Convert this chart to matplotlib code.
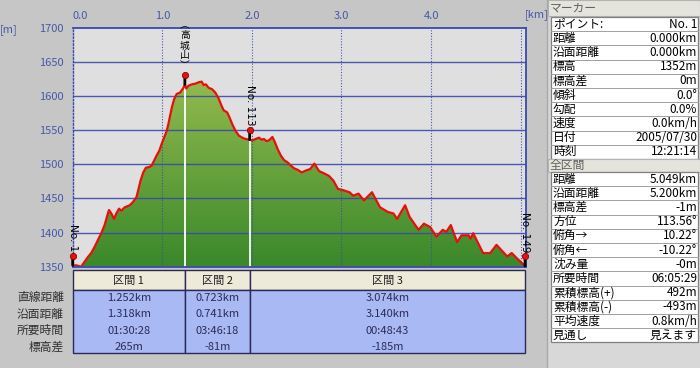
import numpy as np
import matplotlib
matplotlib.use('Agg')
import matplotlib.pyplot as plt
from matplotlib.patches import Rectangle, Polygon
from matplotlib.colors import LinearSegmentedColormap
from matplotlib.transforms import blended_transform_factory, offset_copy

plt.rcParams['font.family'] = ['Noto Sans CJK JP', 'DejaVu Sans']

# ---------------- data ----------------
dist_km = [0.000, 0.038, 0.094, 0.131, 0.169, 0.206, 0.244, 0.281, 0.319, 0.356,
           0.382, 0.405, 0.431, 0.461, 0.487, 0.517, 0.543, 0.581, 0.637, 0.674,
           0.712, 0.731, 0.757, 0.787, 0.817, 0.854, 0.881, 0.907, 0.937, 0.967,
           0.993, 1.023, 1.049, 1.068, 1.087, 1.106, 1.131, 1.161, 1.199, 1.236,
           1.252, 1.268, 1.292, 1.330, 1.367, 1.405, 1.440, 1.461, 1.487, 1.517,
           1.555, 1.592, 1.630, 1.660, 1.685, 1.724, 1.749, 1.780, 1.817, 1.854,
           1.892, 1.929, 1.975, 2.004, 2.042, 2.079, 2.109, 2.135, 2.161, 2.191,
           2.229, 2.258, 2.285, 2.322, 2.360, 2.397, 2.435, 2.472, 2.510, 2.556,
           2.605, 2.650, 2.697, 2.750, 2.800, 2.860, 2.910, 2.960, 3.020, 3.090,
           3.130, 3.190, 3.250, 3.340, 3.430, 3.520, 3.580, 3.620, 3.710, 3.760,
           3.860, 3.920, 3.990, 4.060, 4.130, 4.170, 4.220, 4.290, 4.340, 4.420,
           4.440, 4.470, 4.580, 4.660, 4.730, 4.850, 4.900, 4.960, 5.049]
elev_m = [1352, 1352, 1350, 1357, 1364, 1370, 1379, 1389, 1399, 1411,
          1423, 1433, 1428, 1420, 1428, 1435, 1432, 1437, 1440, 1445,
          1452, 1462, 1476, 1488, 1495, 1496, 1498, 1505, 1513, 1520,
          1530, 1540, 1549, 1559, 1571, 1583, 1595, 1603, 1605, 1612,
          1617, 1611, 1615, 1617, 1618, 1620, 1621, 1616, 1617, 1612,
          1610, 1605, 1596, 1586, 1579, 1576, 1569, 1559, 1549, 1542,
          1539, 1537, 1536, 1535, 1537, 1539, 1536, 1537, 1534, 1535,
          1540, 1532, 1523, 1513, 1506, 1503, 1498, 1494, 1492, 1488,
          1491, 1493, 1501, 1490, 1487, 1483, 1476, 1464, 1462, 1459,
          1454, 1457, 1447, 1459, 1437, 1430, 1428, 1420, 1440, 1423,
          1404, 1413, 1408, 1394, 1404, 1401, 1411, 1386, 1396, 1396,
          1391, 1399, 1370, 1370, 1382, 1365, 1370, 1362, 1351]

marker_names = ['No. 1', '︵\n高\n城\n山\n︶', 'No. 113', 'No. 149']
marker_vertical = [False, True, False, False]
marker_dist = [0.0, 1.252, 1.975, 5.049]

x_grid = [0, 1, 2, 3, 4, 5]
x_tick_labels = ['0.0', '1.0', '2.0', '3.0', '4.0', '']
y_ticks = [1350, 1400, 1450, 1500, 1550, 1600, 1650, 1700]

section_names = ['区間 1', '区間 2', '区間 3']
row_labels = ['直線距離', '沿面距離', '所要時間', '標高差']
sec_straight = ['1.252km', '0.723km', '3.074km']
sec_surface = ['1.318km', '0.741km', '3.140km']
sec_time = ['01:30:28', '03:46:18', '00:48:43']
sec_diff = ['265m', '-81m', '-185m']

marker_panel_labels = ['ポイント:', '距離', '沿面距離', '標高', '標高差', '傾斜',
                       '勾配', '速度', '日付', '時刻']
marker_panel_values = ['No. 1', '0.000km', '0.000km', '1352m', '0m', '0.0°',
                       '0.0%', '0.0km/h', '2005/07/30', '12:21:14']
total_labels = ['距離', '沿面距離', '標高差', '方位', '俯角→', '俯角←', '沈み量',
                '所要時間', '累積標高(+)', '累積標高(-)', '平均速度', '見通し']
total_values = ['5.049km', '5.200km', '-1m', '113.56°', '10.22°', '-10.22°', '-0m',
                '06:05:29', '492m', '-493m', '0.8km/h', '見えます']

# ---------------- figure ----------------
W, H = 700, 368
fig = plt.figure(figsize=(W / 100, H / 100), dpi=100)
fig.patch.set_facecolor('#C6C6C6')

bg = fig.add_axes([0, 0, 1, 1], zorder=0)
bg.set_xlim(0, W)
bg.set_ylim(H, 0)
bg.set_axis_off()

ax = fig.add_axes([72.7 / W, 1 - 266.7 / H, 453 / W, 239 / H], zorder=1)
ax.set_facecolor('#DFDFDF')
XMAX = 5.056
YMIN, YMAX = y_ticks[0], y_ticks[-1]

# gradient fill under profile
cmap = LinearSegmentedColormap.from_list('fill', ['#ABC858', '#3A882A'])
grad = np.linspace(0, 1, 256).reshape(-1, 1)
im = ax.imshow(grad, cmap=cmap, extent=(0, XMAX, YMIN, YMAX), origin='upper',
               aspect='auto', zorder=1, interpolation='bilinear')
d = np.asarray(dist_km)
e = np.asarray(elev_m)
verts = np.column_stack([np.r_[d[0], d, d[-1]], np.r_[YMIN, e, YMIN]])
poly = Polygon(verts, closed=True, transform=ax.transData)
im.set_clip_path(poly)

ax.set_xlim(0, XMAX)
ax.set_ylim(YMIN, YMAX)

# grid
gcol = '#3A4AA8'
for xv in x_grid[1:]:
    ax.axvline(xv, color=gcol, lw=0.8, ls=(0, (1, 1.5)), zorder=2.5, alpha=0.9)
for yv in y_ticks[1:-1]:
    ax.axhline(yv, color=gcol, lw=1.0, zorder=2.5, alpha=0.9)

# section separators (white)
marker_elev = np.interp(marker_dist, dist_km, elev_m)
ax.vlines(marker_dist[1:3], YMIN, marker_elev[1:3], color='white', lw=1.3, zorder=2.7)

# profile line
ax.plot(dist_km, elev_m, color='#E8100C', lw=1.6, zorder=3, solid_joinstyle='round')

# markers
dot_tr = offset_copy(ax.transData, fig=fig, x=0, y=7, units='points')
for name, xv, yv, vert in zip(marker_names, marker_dist, marker_elev, marker_vertical):
    ax.annotate('', xy=(xv, yv), xytext=(0, 7), textcoords='offset points',
                arrowprops=dict(arrowstyle='-', color='black', lw=2,
                                shrinkA=0, shrinkB=0), zorder=5, annotation_clip=False)
    ax.plot([xv], [yv], 'o', ms=4.5, color='#E81010', mec='#900000', mew=0.6,
            transform=dot_tr, clip_on=False, zorder=6)
    if vert:
        ax.annotate(name, xy=(xv, yv), xytext=(0, 10), textcoords='offset points',
                    ha='center', va='bottom', fontsize=7, linespacing=1.0,
                    color='black', zorder=6, annotation_clip=False)
    else:
        ax.annotate(name, xy=(xv, yv), xytext=(0, 10), textcoords='offset points',
                    rotation=-90, ha='center', va='bottom', fontsize=7.5,
                    family=['DejaVu Sans'], color='black', zorder=6,
                    annotation_clip=False)

# ticks / spines
ax.xaxis.tick_top()
ax.set_xticks(x_grid, labels=x_tick_labels)
ax.set_yticks(y_ticks)
tcol = '#4858A8'
ax.tick_params(axis='both', length=0, labelsize=8, labelcolor=tcol)
ax.tick_params(axis='y', pad=6.5)
ax.tick_params(axis='x', pad=5)
xl = ax.get_xticklabels()
xl[0].set_horizontalalignment('left')
for sp in ax.spines.values():
    sp.set_color('#3848B0')
    sp.set_linewidth(1.3)
    sp.set_zorder(4)
ax.spines['left'].set_linestyle((0, (1, 1.5)))
ax.spines['left'].set_linewidth(1.0)

bg.text(9, 30, '[m]', color=tcol, fontsize=8, ha='center', va='center')
bg.text(537, 15, '[km]', color=tcol, fontsize=8, ha='center', va='center')

# ---------------- section table ----------------
tb = blended_transform_factory(ax.transData, bg.transData)
edge = '#2A2A58'
cols = [sec_straight, sec_surface, sec_time, sec_diff]
row_y = [298, 314.3, 330.6, 346.9]
for i in range(len(section_names)):
    x0, x1 = marker_dist[i], marker_dist[i + 1]
    bg.add_patch(Rectangle((x0, 270), x1 - x0, 20, transform=tb, fc='#EDEAD9',
                           ec=edge, lw=1.0))
    bg.add_patch(Rectangle((x0, 290), x1 - x0, 63, transform=tb, fc='#A8B9F4',
                           ec=edge, lw=1.0))
    mid = (x0 + x1) / 2
    bg.text(mid, 280.5, section_names[i], transform=tb, ha='center', va='center',
            fontsize=8, color='#202020')
    for j, col in enumerate(cols):
        bg.text(mid, row_y[j], col[i], transform=tb, ha='center', va='center',
                fontsize=8, color='#2C2C5A')
for j, lab in enumerate(row_labels):
    bg.text(64, row_y[j], lab, ha='right', va='center', fontsize=8.5, color='#303030')

# ---------------- right panel ----------------
PX0 = 547
bg.add_patch(Rectangle((PX0, 0), W - PX0, H, fc='#D8D8D8', ec='none'))
bg.plot([PX0, PX0], [0, H], color='#A8A8A8', lw=1)


def header(y0, h, text):
    bg.add_patch(Rectangle((PX0 + 1, y0), W - PX0 - 1, h, fc='#E4E4DC', ec='#B4B4AC', lw=0.8))
    bg.text(PX0 + 3, y0 + h / 2, text, ha='left', va='center', fontsize=8.5, color='#606060')


def table(y0, rh, labels, values):
    n = len(labels)
    bg.add_patch(Rectangle((551, y0), 147, rh * n, fc='white', ec='#808080', lw=0.9))
    for k in range(1, n):
        bg.plot([551, 698], [y0 + k * rh, y0 + k * rh], color='#A0A0A0', lw=0.7)
    for k, (lab, val) in enumerate(zip(labels, values)):
        yc = y0 + (k + 0.5) * rh
        bg.text(553, yc, lab, ha='left', va='center', fontsize=8.5, color='black')
        bg.text(697, yc, val, ha='right', va='center', fontsize=8.5, color='black')


RH = 14.2
header(0, 16, 'マーカー')
table(17, RH, marker_panel_labels, marker_panel_values)
t1_end = 17 + RH * len(marker_panel_labels)
header(t1_end, 13, '全区間')
table(t1_end + 13, RH, total_labels, total_values)

fig.savefig('out.png', dpi=100, facecolor=fig.get_facecolor())
